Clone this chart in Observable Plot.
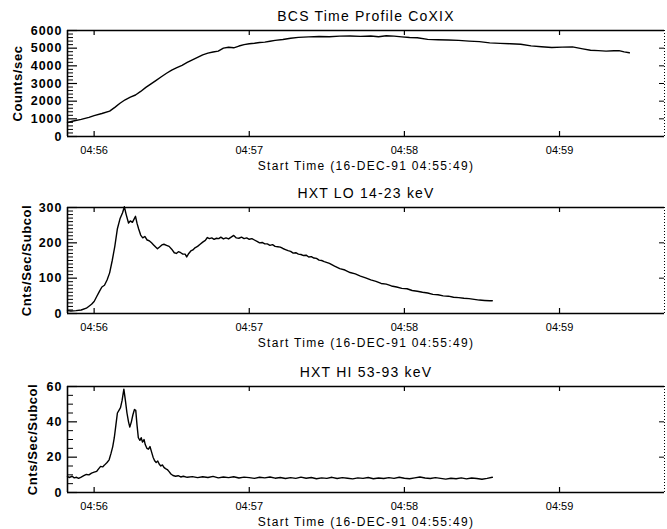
<!DOCTYPE html>
<html><head><meta charset="utf-8">
<script src="https://cdn.jsdelivr.net/npm/d3@7"></script>
<script src="https://cdn.jsdelivr.net/npm/@observablehq/plot@0.6"></script>
<style>
body{margin:0;background:#fff;}
#chart{position:relative;width:667px;height:529px;background:#fff;}
#chart svg{position:absolute;left:0;overflow:visible;}
</style></head><body><div id="chart"></div>
<script>
// ---- data ----
const startTime = "1991-12-16T04:55:49Z";
const xTitle = "Start Time (16-DEC-91 04:55:49)";
const xRangeSec = [0.7, 231.6];
const xTickLabels = ["04:56", "04:57", "04:58", "04:59"];

const panelTitles = ["BCS Time Profile CoXIX", "HXT LO 14-23 keV", "HXT HI 53-93 keV"];
const panelYLabels = ["Counts/sec", "Cnts/Sec/Subcol", "Cnts/Sec/Subcol"];
const panelYDomains = [[0, 6000], [0, 300], [0, 60]];
const panelYTicks = [[0, 1000, 2000, 3000, 4000, 5000, 6000], [0, 100, 200, 300], [0, 20, 40, 60]];
const panelYMinorStep = [200, 10, 5];

const bcsSec = [0.7,3,6,9,11,14,17,19,21,23,25,27,29,31,33,35,37,39,41,43,45,47,49,51,53,55,57,59,61,63,65,67,69,71,73,75,77,79,81,84,87,90,94,98,102,106,110,114,118,121,124,127,130,133,136,140,144,148,152,156,160,164,168,172,176,180,184,188,192,196,200,203,206,209,212,214,216,218];
const bcsCounts = [800,880,970,1080,1180,1300,1440,1650,1880,2080,2230,2350,2550,2780,2980,3180,3380,3580,3760,3900,4030,4190,4340,4480,4620,4720,4780,4830,5000,5050,5020,5120,5200,5250,5280,5320,5340,5390,5440,5490,5560,5610,5640,5660,5650,5680,5690,5670,5690,5650,5700,5680,5640,5600,5590,5500,5480,5460,5440,5400,5370,5300,5270,5250,5220,5130,5080,5040,5060,5070,4960,4880,4860,4830,4850,4860,4790,4740];

const loSec = [0.7,2,4,6,8,10,11,12,13,14,15,16,17,18,19,20,21,22,22.7,23.4,24.3,25,25.8,26.5,27,27.6,28.2,29,29.8,30.6,31.5,32.3,33.2,34,34.8,35.5,36.3,37.2,38,39,40,41,42,42.8,43.6,44.5,45.3,46.2,46.8,47.6,48.4,49.2,50,51,52,53,54,54.8,55.6,56.5,57.4,58.3,59.2,60,61,62,63,64,65,66,67,68,69,70,71,72,73,74,75,76,77,78,79,80,81,82,83,84,85,86,87,88,89,90,91,92,93,94,95,96,97,98,99,100,102,104,106,108,110,112,114,116,118,120,122,124,126,128,130,132,134,136,138,140,142,144,146,148,150,152,154,156,158,160,162,164,165];
const loCounts = [8,7,8,10,15,26,34,48,62,75,80,95,115,150,190,240,268,285,302,280,256,262,258,268,275,255,240,222,214,218,208,206,200,194,188,183,188,194,196,193,190,182,172,170,175,172,168,168,160,170,177,180,186,190,196,202,207,215,212,214,210,213,212,216,211,214,211,216,221,214,213,216,212,214,210,212,208,204,200,201,197,197,193,195,190,189,188,184,181,178,176,171,172,168,167,164,165,160,161,157,156,151,150,147,142,134,127,123,116,112,106,101,95,91,85,83,78,75,71,70,65,63,60,58,54,53,50,49,46,45,43,42,40,38,37,36,36];

const hiSec = [0.7,1.5,2.5,3.3,4.2,5,6,7,8,9,10,11,12,12.8,13.5,14.3,15,16,16.8,17.5,18.2,18.8,19.4,20,20.6,21.2,21.8,22.5,23.1,23.7,24.3,24.8,25.4,26,26.6,27.1,27.6,28.1,28.7,29.2,29.7,30.3,30.8,31.4,32,32.6,33.2,33.8,34.4,35,35.6,36.2,36.8,37.4,38,38.6,39.3,40,40.7,41.5,42.5,43.5,44.5,45.5,47,49,51,53,55,57,59,61,63,65,67,69,71,73,75,77,79,81,83,85,87,89,91,93,95,97,99,101,103,105,107,109,111,113,115,117,119,121,123,125,127,129,131,133,135,137,139,141,143,145,147,149,151,153,155,157,159,161,163,165];
const hiCounts = [9.0,8.5,9.2,8.3,8.6,8.0,8.7,9.5,10.2,10.0,11.0,11.5,12.0,13.5,14.8,14.5,15.5,17.0,18.5,22,26,31,38,45,46.5,48,52,58.5,52,45,40,37,40,44,47,46.5,38,31,29.5,31,28.5,30,27,25,24.5,26,23,20,18,17,17.8,16,15,15.6,14.2,13.5,13,11.8,10.5,9.6,9.2,9.5,8.8,9.2,8.6,9.0,8.4,8.9,8.5,9.1,8.3,8.8,8.4,8.9,8.2,8.7,8.4,8.0,8.6,8.3,8.8,8.1,8.5,7.9,8.4,8.0,8.7,8.1,8.5,7.8,8.3,8.0,8.6,7.9,8.4,8.1,7.7,8.3,8.0,8.5,7.8,8.2,7.9,8.4,8.0,8.6,8.1,7.8,8.3,8.8,8.2,7.9,8.4,8.0,7.6,8.1,7.8,8.3,7.7,8.2,7.9,7.5,8.0,8.6];

const panelSeries = [[bcsSec, bcsCounts], [loSec, loCounts], [hiSec, hiCounts]];

// ---- drawing ----
const t0 = new Date(startTime).getTime();
const toDate = s => new Date(t0 + s * 1000);
const xDomain = xRangeSec.map(toDate);
const xTicks = xTickLabels.map(l => new Date("1991-12-16T" + l + ":00Z"));

const W = 667, ML = 67, MR = 3, MT = 30, FH = 106, MB = 40;
const FW = W - ML - MR;
const panelTops = [0, 177, 356];
const labelDx = [-50, -41, -35];
const FONT = "'Liberation Sans', Arial, Helvetica, sans-serif";

function spaceText(svg, content, spacing) {
  d3.select(svg).selectAll("text").filter(function() { return this.textContent === content; })
    .style("letter-spacing", spacing);
}

const chart = document.getElementById("chart");
panelTitles.forEach((title, i) => {
  const [secs, vals] = panelSeries[i];
  const data = secs.map((s, k) => ({date: toDate(s), value: vals[k]}));
  const yDomain = panelYDomains[i];
  const major = panelYTicks[i];
  const minor = d3.range(yDomain[0], yDomain[1] + 1e-9, panelYMinorStep[i]).filter(v => !major.includes(v));
  const svg = Plot.plot({
    width: W, height: MT + FH + MB,
    marginLeft: ML, marginRight: MR, marginTop: MT, marginBottom: MB,
    x: {type: "utc", domain: xDomain, label: null},
    y: {domain: yDomain, label: null},
    style: {fontFamily: FONT, color: "black", background: "white", overflow: "visible"},
    marks: [
      Plot.ruleY([yDomain[0]], {stroke: "black", strokeWidth: 1.6}),
      Plot.ruleY([yDomain[1]], {stroke: "black", strokeWidth: 1.6}),
      Plot.ruleX([xDomain[0]], {stroke: "black", strokeWidth: 1.6}),
      Plot.ruleX([xDomain[1]], {stroke: "black", strokeWidth: 1, strokeDasharray: "1,2"}),
      Plot.tickY(major, {y: d => d, insetRight: FW - 10, stroke: "black", strokeWidth: 1.2}),
      Plot.tickY(minor, {y: d => d, insetRight: FW - 6, stroke: "black", strokeWidth: 1}),
      Plot.tickY(major, {y: d => d, insetLeft: FW - 5, stroke: "black", strokeWidth: 1}),
      Plot.tickX(xTicks, {x: d => d, insetTop: FH - 5, stroke: "black", strokeWidth: 1.2}),
      Plot.tickX(xTicks, {x: d => d, insetBottom: FH - 5, stroke: "black", strokeWidth: 1.2}),
      Plot.axisX({ticks: xTicks, tickSize: 0, tickPadding: 10, tickFormat: d3.utcFormat("%H:%M"), fontSize: 11, label: null}),
      Plot.axisY({ticks: major, tickSize: 0, tickPadding: 5, tickFormat: d3.format("d"), fontSize: 12.5, fontWeight: "bold", label: null}),
      Plot.line(data, {x: "date", y: "value", stroke: "black", strokeWidth: 1.4}),
      Plot.text([title], {frameAnchor: "top", dy: -14, lineAnchor: "middle", fontSize: 14}),
      Plot.text([xTitle], {frameAnchor: "bottom", dy: 30, lineAnchor: "middle", fontSize: 12}),
      Plot.text([panelYLabels[i]], {frameAnchor: "left", rotate: -90, dx: labelDx[i], textAnchor: "middle", lineAnchor: "middle", fontSize: 13, fontWeight: "bold"})
    ]
  });
  spaceText(svg, title, "1.2px");
  spaceText(svg, xTitle, "1.3px");
  spaceText(svg, panelYLabels[i], "0.6px");
  major.forEach(v => spaceText(svg, String(v), "1px"));
  svg.style.top = panelTops[i] + "px";
  chart.appendChild(svg);
});
</script>
</body></html>
